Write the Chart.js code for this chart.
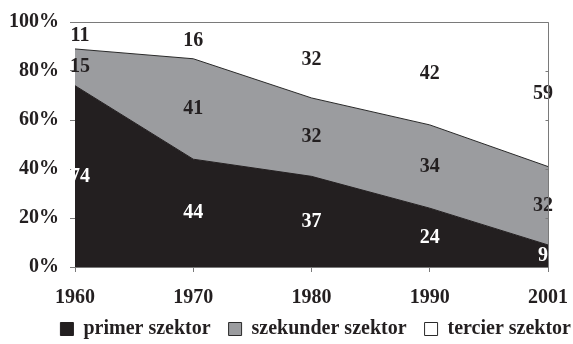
<!DOCTYPE html>
<html>
<head>
<meta charset="utf-8">
<script src="https://cdn.jsdelivr.net/npm/chart.js@4/dist/chart.umd.min.js"></script>
<style>
  html, body { margin: 0; padding: 0; background: #fff; }
  #wrap { width: 573px; height: 344px; }
</style>
</head>
<body>
<div id="wrap"><canvas id="c" width="573" height="344"></canvas></div>
<script>
// Employment share by sector (%), Hungary
const years = ['1960', '1970', '1980', '1990', '2001'];
const primer = [74, 44, 37, 24, 9];
const szekunder = [15, 41, 32, 34, 32];
const tercier = [11, 16, 32, 42, 59];
const seriesNames = ['primer szektor', 'szekunder szektor', 'tercier szektor'];
const yTicks = [0, 20, 40, 60, 80, 100];

const FONT = '"Liberation Serif", "Times New Roman", serif';
const INK = '#231f20';
const AXIS = '#7a7a7a';

// Writes each value in the middle of its band
const bandLabels = {
  id: 'bandLabels',
  afterDatasetsDraw(chart) {
    const ctx = chart.ctx;
    const y = chart.scales.y;
    const n = chart.data.labels.length;
    ctx.save();
    ctx.font = 'bold 20px ' + FONT;
    ctx.textAlign = 'center';
    ctx.textBaseline = 'middle';
    chart.data.labels.forEach((_, j) => {
      let base = 0;
      chart.data.datasets.forEach((ds, i) => {
        const v = ds.data[j];
        const top = Math.min(base + v, 100);
        const mid = (base + top) / 2;
        const pt = chart.getDatasetMeta(i).data[j];
        let x = pt.x;
        if (j === 0) x += 5;
        if (j === n - 1) x -= 5;
        ctx.fillStyle = i === 0 ? '#ffffff' : INK;
        ctx.fillText(String(v), x, y.getPixelForValue(mid));
        base += v;
      });
    });
    ctx.restore();
  }
};

// Top and right frame lines, with short inward ticks on the right side
const frame = {
  id: 'frame',
  afterDraw(chart) {
    const ctx = chart.ctx;
    const a = chart.chartArea;
    const y = chart.scales.y;
    const top = Math.round(a.top) + 0.5;
    const right = Math.round(a.right) + 0.5;
    ctx.save();
    ctx.strokeStyle = AXIS;
    ctx.lineWidth = 1;
    ctx.beginPath();
    ctx.moveTo(a.left, top);
    ctx.lineTo(right, top);
    ctx.lineTo(right, a.bottom);
    ctx.stroke();
    ctx.beginPath();
    yTicks.forEach(v => {
      const py = Math.round(y.getPixelForValue(v)) + 0.5;
      ctx.moveTo(right - 3, py);
      ctx.lineTo(right, py);
    });
    ctx.stroke();
    ctx.restore();
  }
};

// Gives the year labels room and sets the legend row lower and to the right
const placeBottom = {
  id: 'placeBottom',
  afterLayout(chart) {
    chart.scales.x.bottom += 30;
    const lg = chart.legend;
    lg.top += 5; lg.bottom += 5;
    lg.left += 41; lg.right += 41;
  }
};

new Chart(document.getElementById('c'), {
  type: 'line',
  data: {
    labels: years,
    datasets: [
      { label: seriesNames[0], data: primer, fill: 'origin',
        backgroundColor: '#231f20', borderColor: '#231f20', borderWidth: 1 },
      { label: seriesNames[1], data: szekunder, fill: '-1',
        backgroundColor: '#9b9c9f', borderColor: '#2a2a2a', borderWidth: 1 },
      { label: seriesNames[2], data: tercier, fill: '-1', clip: 0,
        backgroundColor: '#ffffff', borderColor: '#2a2a2a', borderWidth: 1 }
    ]
  },
  options: {
    responsive: false,
    animation: false,
    layout: { padding: { left: 0, right: 25, top: 22, bottom: 0 } },
    elements: { point: { radius: 0, hoverRadius: 0 }, line: { tension: 0 } },
    plugins: {
      tooltip: { enabled: false },
      legend: {
        position: 'bottom',
        align: 'end',
        labels: {
          color: INK,
          font: { family: FONT, size: 20, weight: 'bold' },
          boxWidth: 13,
          boxHeight: 13,
          padding: 18
        }
      }
    },
    scales: {
      x: {
        type: 'category',
        offset: false,
        grid: { drawOnChartArea: false, drawTicks: true, tickLength: 5, color: AXIS },
        border: { color: AXIS, width: 1 },
        ticks: { color: INK, font: { family: FONT, size: 20, weight: 'bold' }, padding: 14, maxRotation: 0 },
        afterFit(s) { s.height = 29; s.paddingLeft = 0; s.paddingRight = 0; }
      },
      y: {
        stacked: true,
        min: 0,
        max: 100,
        afterBuildTicks(s) { s.ticks = yTicks.map(v => ({ value: v })); },
        grid: { drawOnChartArea: false, drawTicks: true, tickLength: 5, color: AXIS },
        border: { color: AXIS, width: 1 },
        ticks: {
          color: INK,
          font: { family: FONT, size: 20, weight: 'bold' },
          padding: 11,
          callback: v => v + '%'
        },
        afterFit(s) { s.width = 75; s.paddingTop = 0; s.paddingBottom = 0; }
      }
    }
  },
  plugins: [bandLabels, frame, placeBottom]
});
</script>
</body>
</html>
